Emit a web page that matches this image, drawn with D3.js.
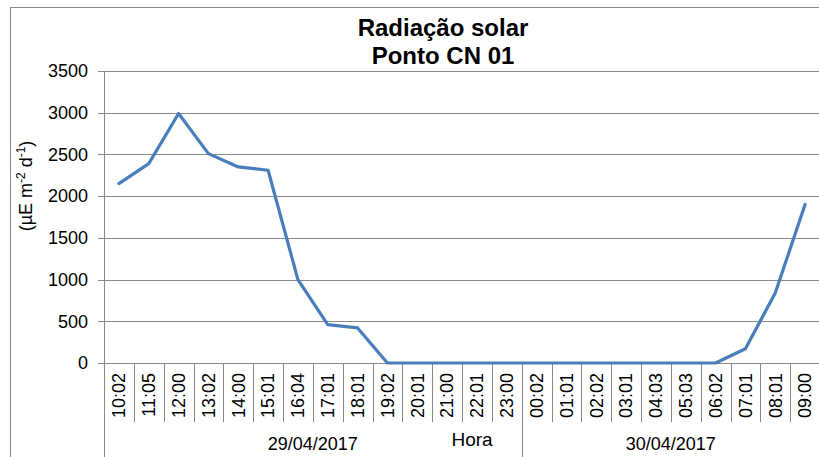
<!DOCTYPE html>
<meta charset="utf-8">
<style>
body { margin: 0; background: #fff; }
text { font-family: Arial, "Liberation Sans", sans-serif; fill: #000; }
</style>
<svg width="819" height="457"></svg>
<script src="https://d3js.org/d3.v7.min.js"></script>
<script>

var hours = ["10:02","11:05","12:00","13:02","14:00","15:01","16:04","17:01","18:01","19:02","20:01","21:00","22:01","23:00",
             "00:02","01:01","02:02","03:01","04:03","05:03","06:02","07:01","08:01","09:00"];
var dates = ["29/04/2017", "30/04/2017"];
var dateCounts = [14, 10];
var radiacao = [2150, 2390, 2990, 2510, 2350, 2310, 1000, 460, 420, 0, 0, 0, 0, 0,
                0, 0, 0, 0, 0, 0, 0, 170, 840, 1900];
var yTicks = [0, 500, 1000, 1500, 2000, 2500, 3000, 3500];

var svg = d3.select("svg");
var gridColor = "#888";

// chart frame (right and bottom edges fall outside the picture)
svg.append("rect")
    .attr("x", 10.5).attr("y", 7.5)
    .attr("width", 830).attr("height", 470)
    .attr("fill", "none").attr("stroke", gridColor);

var plotL = 104, plotR = 820, plotT = 71, plotB = 363;

var x = d3.scaleBand().domain(d3.range(hours.length)).range([plotL, plotR]);
var y = d3.scaleLinear().domain([0, 3500]).range([plotB, plotT]);

// gridlines + y ticks
svg.append("g").selectAll("line")
  .data(yTicks)
  .join("line")
    .attr("x1", plotL - 6).attr("x2", plotR)
    .attr("y1", d => Math.round(y(d)) + 0.5).attr("y2", d => Math.round(y(d)) + 0.5)
    .attr("stroke", gridColor);

svg.append("g").selectAll("text")
  .data(yTicks)
  .join("text")
    .attr("x", 88).attr("y", d => y(d))
    .attr("dy", "0.35em")
    .attr("text-anchor", "end")
    .style("font-size", "18px")
    .text(d => d);

// y axis line
svg.append("line")
    .attr("x1", plotL + 0.5).attr("x2", plotL + 0.5)
    .attr("y1", plotT).attr("y2", 457)
    .attr("stroke", gridColor);

// hour separators
svg.append("g").selectAll("line")
  .data(d3.range(1, hours.length + 1))
  .join("line")
    .attr("x1", i => Math.round(plotL + i * x.step()) + 0.5)
    .attr("x2", i => Math.round(plotL + i * x.step()) + 0.5)
    .attr("y1", plotB).attr("y2", 422)
    .attr("stroke", gridColor);

// hour labels
svg.append("g").selectAll("text")
  .data(hours)
  .join("text")
    .attr("transform", (d, i) => "translate(" + (x(i) + x.bandwidth() / 2) + ",373) rotate(-90)")
    .attr("dy", "0.35em")
    .attr("text-anchor", "end")
    .style("font-size", "18px")
    .text(d => d);

// date groups
var start = 0;
dates.forEach(function(d, k) {
  var x0 = plotL + start * x.step();
  var x1 = plotL + (start + dateCounts[k]) * x.step();
  svg.append("line")
      .attr("x1", Math.round(x1) + 0.5).attr("x2", Math.round(x1) + 0.5)
      .attr("y1", plotB).attr("y2", 457)
      .attr("stroke", gridColor);
  svg.append("text")
      .attr("x", (x0 + x1) / 2).attr("y", 450)
      .attr("text-anchor", "middle")
      .style("font-size", "18px")
      .text(d);
  start += dateCounts[k];
});

// axis titles
svg.append("text")
    .attr("x", 472).attr("y", 446)
    .attr("text-anchor", "middle")
    .style("font-size", "19px")
    .text("Hora");

var yl = svg.append("text")
    .attr("transform", "translate(32,186) rotate(-90)")
    .attr("text-anchor", "middle")
    .style("font-size", "18px");
yl.append("tspan").text("(µE m");
yl.append("tspan").attr("dy", -7).style("font-size", "12px").text("-2");
yl.append("tspan").attr("dy", 7).text(" d");
yl.append("tspan").attr("dy", -7).style("font-size", "12px").text("-1");
yl.append("tspan").attr("dy", 7).text(")");

// title
svg.append("text")
    .attr("x", 443).attr("y", 36)
    .attr("text-anchor", "middle")
    .style("font-size", "24px").style("font-weight", "bold")
    .text("Radiação solar");
svg.append("text")
    .attr("x", 443).attr("y", 64)
    .attr("text-anchor", "middle")
    .style("font-size", "24px").style("font-weight", "bold")
    .text("Ponto CN 01");

// series line
var line = d3.line()
    .x((d, i) => x(i) + x.bandwidth() / 2)
    .y(d => y(d));

svg.append("path")
    .datum(radiacao)
    .attr("d", line)
    .attr("fill", "none")
    .attr("stroke", "#4a7ebb")
    .attr("stroke-width", 3.2)
    .attr("stroke-linejoin", "round")
    .attr("stroke-linecap", "round");

</script>
